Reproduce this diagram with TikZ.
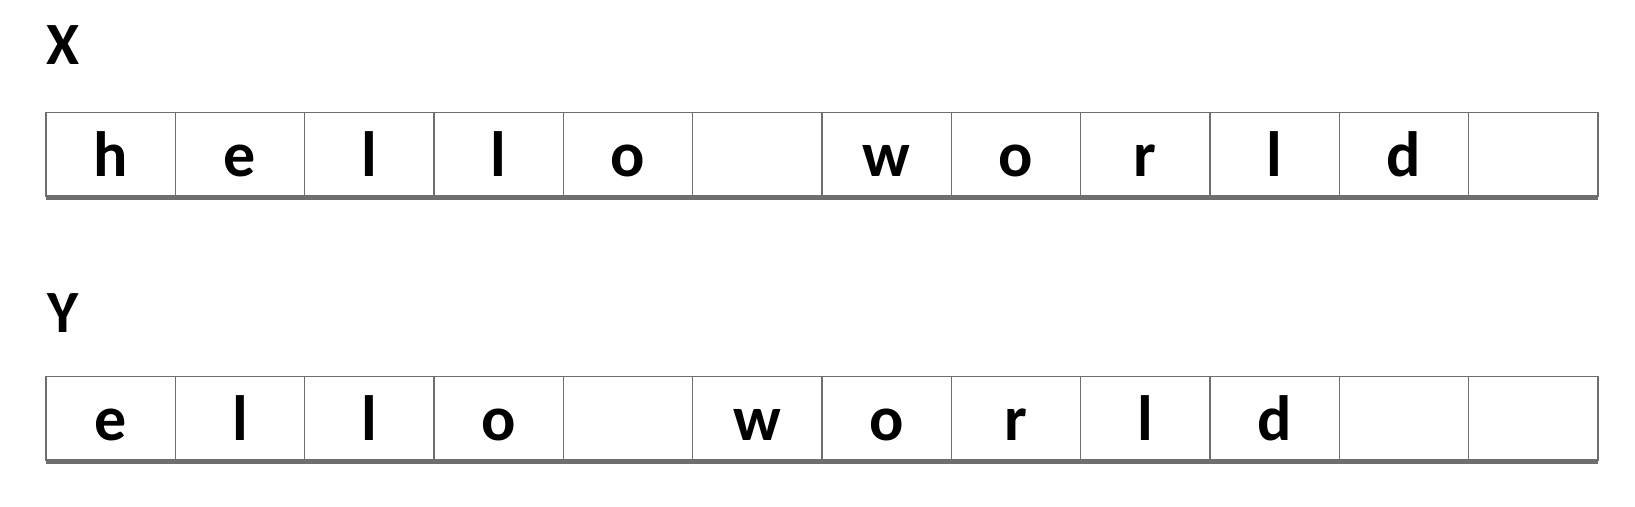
\documentclass[tikz,border=0pt]{standalone}
\usepackage{fontspec}
\setmainfont{Carlito}
\definecolor{cellgray}{HTML}{6E6E6E}
\begin{document}
\begin{tikzpicture}[x=1pt,y=-1pt,
  cellbox/.style={draw=cellgray,line width=1.3pt,inner sep=0pt,outer sep=0pt,minimum width=129.33pt,minimum height=83.5pt},
  letter/.style={anchor=base,inner sep=0pt,font=\fontsize{64}{64}\selectfont\bfseries},
  rowlabel/.style={anchor=base west,inner sep=0pt,font=\fontsize{60}{60}\selectfont\bfseries},
  baseline rule/.style={draw=cellgray,line width=4pt}]
\useasboundingbox (0,0) rectangle (1635,506);
\node[rowlabel] (lx) at (46,64) {X};
\node[rowlabel] (ly) at (47,332) {Y};
\foreach \t [count=\i] in {h,e,l,l,o,{},w,o,r,l,d,{}} {
  \node[cellbox] (cx\i) at ({46+129.33*(\i-0.5)},154.25) {};
  \node[letter] (tx\i) at ({46+129.33*(\i-0.5)},176.7) {\t};
}
\foreach \t [count=\i] in {e,l,l,o,{},w,o,r,l,d,{},{}} {
  \node[cellbox] (cy\i) at ({46+129.33*(\i-0.5)},418.35) {};
  \node[letter] (ty\i) at ({46+129.33*(\i-0.5)},440.7) {\t};
}
\draw[baseline rule] ([yshift=-2pt]cx1.south west) -- ([yshift=-2pt]cx12.south east);
\draw[baseline rule] ([yshift=-2pt]cy1.south west) -- ([yshift=-2pt]cy12.south east);
\end{tikzpicture}
\end{document}
